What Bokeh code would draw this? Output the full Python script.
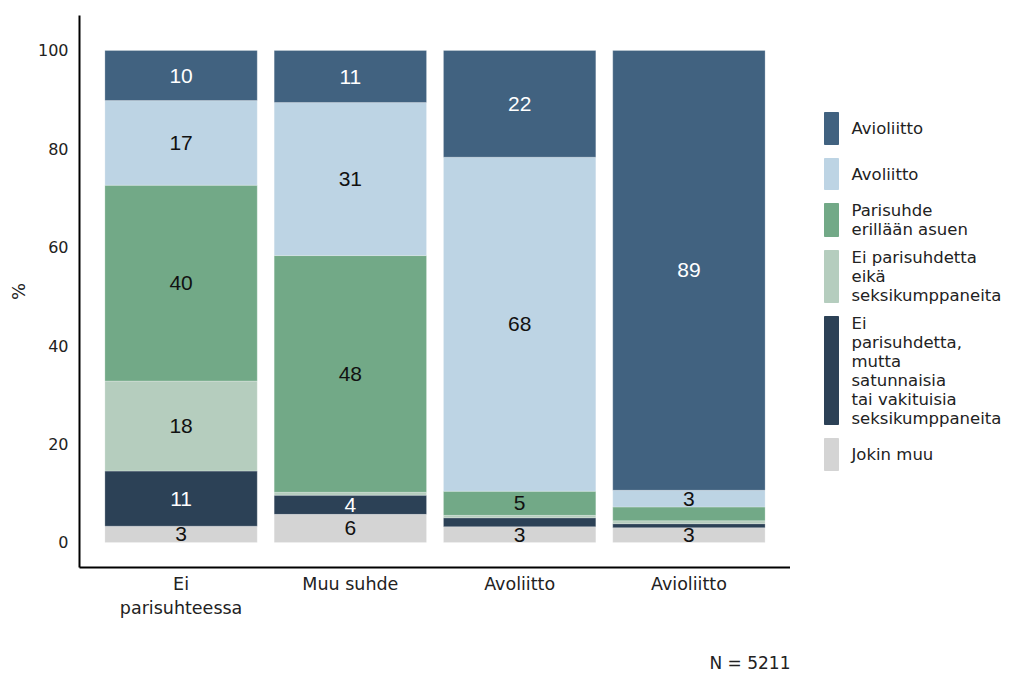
import numpy as np
from bokeh.plotting import figure
from bokeh.layouts import row
from bokeh.models import ColumnDataSource, FactorRange, Range1d, FixedTicker
from bokeh.core.properties import value
from bokeh.embed import file_html
from bokeh.resources import INLINE

# ---- data ----
categories = ["Ei\nparisuhteessa", "Muu suhde", "Avoliitto", "Avioliitto"]
series = ["Jokin muu",
          "Ei parisuhdetta, mutta satunnaisia tai vakituisia seksikumppaneita",
          "Ei parisuhdetta eikä seksikumppaneita",
          "Parisuhde erillään asuen",
          "Avoliitto",
          "Avioliitto"]
jokin_muu = [3.3, 5.7, 3.2, 3.0]
ei_mutta_satunnaisia = [11.2, 3.9, 1.8, 0.8]
ei_eika = [18.3, 0.6, 0.5, 0.6]
parisuhde_erillaan = [39.8, 48.1, 4.9, 2.8]
avoliitto = [17.2, 31.1, 67.9, 3.4]
avioliitto = [10.2, 10.6, 21.7, 89.4]
y_ticks = [0, 20, 40, 60, 80, 100]
n_text = "N = 5211"

# legend labels (as wrapped in the reference), top to bottom
legend_lines = [
    ["Avioliitto"],
    ["Avoliitto"],
    ["Parisuhde", "erillään asuen"],
    ["Ei parisuhdetta", "eikä", "seksikumppaneita"],
    ["Ei", "parisuhdetta,", "mutta", "satunnaisia", "tai vakituisia", "seksikumppaneita"],
    ["Jokin muu"],
]

colors = ["#d4d4d4", "#2c4156", "#b5cdbe", "#72a987", "#bdd4e4", "#416280"]
label_colors = ["#111111", "#ffffff", "#111111", "#111111", "#111111", "#ffffff"]
FONT = "DejaVu Sans"
TXT = "#222222"

stack = np.array([jokin_muu, ei_mutta_satunnaisia, ei_eika,
                  parisuhde_erillaan, avoliitto, avioliitto])
keys = ["s%d" % i for i in range(len(stack))]
data = {"x": categories}
for k, vals in zip(keys, stack):
    data[k] = list(vals)
src = ColumnDataSource(data)

H = 683
p = figure(x_range=FactorRange(factors=categories, range_padding=0.05),
           y_range=Range1d(-5.1, 107.1),
           width=790, height=H, output_backend="svg", toolbar_location=None,
           min_border_left=79, min_border_right=0, min_border_top=15,
           min_border_bottom=116)

p.vbar_stack(keys, x="x", width=0.9, source=src, color=colors,
             line_color="white", line_width=0.4, line_alpha=0.6)

# value labels
tops = np.cumsum(stack, axis=0)
bottoms = tops - stack
lx, ly, lt, lc = [], [], [], []
for i in range(stack.shape[0]):
    for j, cat in enumerate(categories):
        v = stack[i, j]
        if v >= 3:
            lx.append(cat)
            ly.append((tops[i, j] + bottoms[i, j]) / 2)
            lt.append("%.0f" % v)
            lc.append(label_colors[i])
lsrc = ColumnDataSource(dict(x=lx, y=ly, t=lt, c=lc))
p.text(x="x", y="y", text="t", source=lsrc, text_color="c",
       text_align="center", text_baseline="middle",
       text_font=value("Liberation Sans"), text_font_size="21px")

p.xgrid.visible = False
p.ygrid.visible = False
p.outline_line_color = None
p.background_fill_color = "white"

for ax in (p.xaxis, p.yaxis):
    ax.axis_line_color = "black"
    ax.axis_line_width = 2
    ax.major_tick_line_color = None
    ax.minor_tick_line_color = None
    ax.major_tick_out = 0
    ax.major_tick_in = 0
    ax.minor_tick_out = 0
    ax.minor_tick_in = 0
    ax.major_label_text_font = FONT
    ax.major_label_text_color = TXT

p.yaxis.major_label_text_font_size = "16px"
p.xaxis.major_label_text_font_size = "17.5px"
p.yaxis.ticker = FixedTicker(ticks=y_ticks)
p.yaxis.major_label_standoff = 11
p.yaxis.axis_label = "%"
p.yaxis.axis_label_text_font = FONT
p.yaxis.axis_label_text_font_style = "normal"
p.yaxis.axis_label_text_font_size = "18px"
p.yaxis.axis_label_text_color = TXT
p.yaxis.axis_label_standoff = 6
p.xaxis.major_label_standoff = 6

# sample-size note, right-aligned at the end of the x axis
# (the axis label is centred on its anchor, so pad it with no-break spaces)
xax = p.xaxis[0]
xax.axis_label = n_text + "\u00a0" * 15
xax.axis_label_align = "end"
xax.axis_label_text_font = FONT
xax.axis_label_text_font_style = "normal"
xax.axis_label_text_font_size = "17px"
xax.axis_label_text_color = TXT
xax.axis_label_standoff = 32

# ---- legend panel (data coordinates equal page pixels) ----
lg = figure(width=226, height=H, x_range=Range1d(790, 1016), y_range=Range1d(567, 15),
            output_backend="svg", toolbar_location=None,
            min_border_left=0, min_border_right=0, min_border_top=15,
            min_border_bottom=116)
lg.axis.visible = False
lg.grid.visible = False
lg.outline_line_color = None

item_spans = [(112, 144), (158, 189), (203, 236), (250, 302), (316, 424), (438, 470)]
legend_colors = colors[::-1]
bx, by, bh, bc = [], [], [], []
tx, ty, tt = [], [], []
for (y0, y1), col, lines in zip(item_spans, legend_colors, legend_lines):
    bx.append(831); by.append((y0 + y1) / 2); bh.append(y1 - y0); bc.append(col)
    c = (y0 + y1) / 2
    n = len(lines)
    for k, ln in enumerate(lines):
        tx.append(851); ty.append(c + (k - (n - 1) / 2) * 19); tt.append(ln)
lg.rect(x=bx, y=by, width=14, height=bh, color=bc)
lg.text(x=tx, y=ty, text=tt, text_baseline="middle", text_align="left",
        text_font=value(FONT), text_font_size="16.5px", text_color=TXT)

layout = row(p, lg)
open("out.html", "w").write(file_html(layout, INLINE))
